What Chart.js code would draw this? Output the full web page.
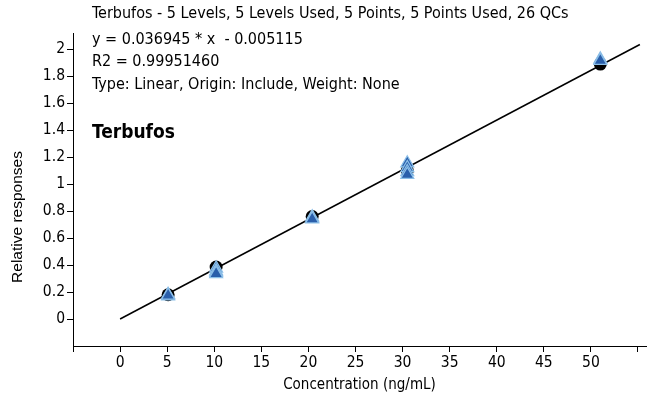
<!DOCTYPE html>
<html>
<head>
<meta charset="utf-8">
<script src="https://cdn.jsdelivr.net/npm/chart.js@4.4.1/dist/chart.umd.min.js"></script>
<style>
  html, body { margin: 0; padding: 0; background: #fff; }
  canvas { display: block; }
</style>
</head>
<body>
<canvas id="calib" width="649" height="400"></canvas>
<script>
// calibration levels (black circles)
var calX = [5.1, 10.2, 20.4, 30.5, 51];
var calY = [0.18, 0.385, 0.76, 1.10, 1.89];
// QC points (blue triangles)
var qcX = [5.1, 5.1, 5.1, 10.2, 10.2, 10.2, 10.2, 20.4, 20.4, 20.4, 30.5, 30.5, 30.5, 30.5, 51, 51];
var qcY = [0.17, 0.18, 0.175, 0.375, 0.355, 0.345, 0.335, 0.755, 0.745, 0.74, 1.155, 1.12, 1.09, 1.07, 1.925, 1.915];
// fitted curve end points
var fitX = [0, 55.2];
var fitY = [0, 2.035];
// ticks
var xTicks = [-5, 0, 5, 10, 15, 20, 25, 30, 35, 40, 45, 50, 55];
var xTickLabels = ['', '0', '5', '10', '15', '20', '25', '30', '35', '40', '45', '50', ''];
var yTicks = [0, 0.2, 0.4, 0.6, 0.8, 1, 1.2, 1.4, 1.6, 1.8, 2];
var yTickLabels = ['0', '0.2', '0.4', '0.6', '0.8', '1', '1.2', '1.4', '1.6', '1.8', '2'];
// header text
var headerLines = [
  'Terbufos - 5 Levels, 5 Levels Used, 5 Points, 5 Points Used, 26 QCs',
  'y = 0.036945 * x  - 0.005115',
  'R2 = 0.99951460',
  'Type: Linear, Origin: Include, Weight: None'
];
var compoundName = 'Terbufos';
var yTitle = 'Relative responses';

var narrow = '"Liberation Sans Narrow", "DejaVu Sans Condensed", sans-serif';

function pairs(xs, ys) {
  return xs.map(function(x, i) { return { x: x, y: ys[i] }; });
}

/*------------------------------------*\
     Texte d'en-tête + titre axe Y
\*------------------------------------*/
var headerPlugin = {
  id: 'header',
  afterDraw: function(chart) {
    var ctx = chart.ctx;
    ctx.save();
    ctx.fillStyle = '#000';
    ctx.textAlign = 'left';
    ctx.textBaseline = 'alphabetic';
    ctx.font = '16px ' + narrow;
    var base = [18, 44, 66, 89];
    headerLines.forEach(function(t, i) {
      ctx.fillText(t, 92, base[i]);
    });
    ctx.font = 'bold 19px ' + narrow;
    ctx.fillText(compoundName, 92, 138);
    // titre vertical, décalé vers le bas comme l'original
    ctx.translate(18, 217);
    ctx.rotate(-Math.PI / 2);
    ctx.textAlign = 'center';
    ctx.textBaseline = 'middle';
    ctx.font = '15.5px "Liberation Sans", Arial, sans-serif';
    ctx.fillText(yTitle, 0, 0);
    ctx.restore();
  }
};

new Chart(document.getElementById('calib').getContext('2d'), {
  type: 'scatter',
  data: {
    datasets: [{
      label: 'QC',
      data: pairs(qcX, qcY),
      pointStyle: 'triangle',
      pointRadius: 7.5,
      backgroundColor: '#2a5fab',
      borderColor: '#8cbfe8',
      borderWidth: 1.2
    }, {
      label: 'Levels',
      data: pairs(calX, calY),
      pointStyle: 'circle',
      pointRadius: 6.5,
      backgroundColor: '#000',
      borderColor: '#000',
      borderWidth: 0
    }, {
      type: 'line',
      label: 'Fit',
      data: pairs(fitX, fitY),
      showLine: true,
      pointRadius: 0,
      borderColor: '#000',
      borderWidth: 1.5,
      fill: false
    }]
  },
  options: {
    responsive: false,
    animation: false,
    devicePixelRatio: 1,
    layout: { autoPadding: false, padding: { top: 33, right: 3, left: 0, bottom: 0 } },
    plugins: { legend: { display: false }, tooltip: { enabled: false } },
    scales: {
      x: {
        type: 'linear',
        min: -5,
        max: 55.85,
        afterBuildTicks: function(scale) {
          scale.ticks = xTicks.map(function(v) { return { value: v }; });
        },
        afterFit: function(scale) { scale.height = 54; },
        ticks: {
          color: '#000',
          font: { family: narrow, size: 15.5 },
          padding: 2,
          maxRotation: 0,
          autoSkip: false,
          callback: function(v) {
            var i = xTicks.indexOf(v);
            return i >= 0 ? xTickLabels[i] : '';
          }
        },
        grid: { drawOnChartArea: false, drawTicks: true, tickLength: 6, color: '#000', lineWidth: 1 },
        border: { color: '#000', width: 1 },
        title: {
          display: true,
          text: 'Concentration (ng/mL)',
          color: '#000',
          font: { family: narrow, size: 15 },
          padding: { top: 0, bottom: 6 }
        }
      },
      y: {
        type: 'linear',
        min: -0.2,
        max: 2.12,
        afterBuildTicks: function(scale) {
          scale.ticks = yTicks.map(function(v) { return { value: v }; });
        },
        afterFit: function(scale) { scale.width = 73; },
        ticks: {
          color: '#000',
          font: { family: narrow, size: 15.5 },
          padding: 2,
          autoSkip: false,
          callback: function(v) {
            var i = yTicks.indexOf(v);
            return i >= 0 ? yTickLabels[i] : '';
          }
        },
        grid: { drawOnChartArea: false, drawTicks: true, tickLength: 6, color: '#000', lineWidth: 1 },
        border: { color: '#000', width: 1 }
      }
    }
  },
  plugins: [headerPlugin]
});
</script>
</body>
</html>
